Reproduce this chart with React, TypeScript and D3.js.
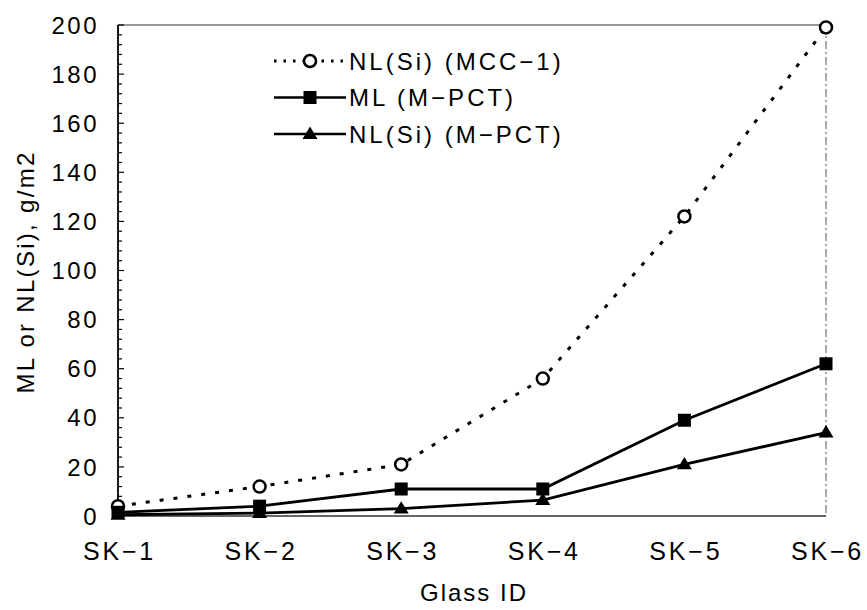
import React from "react";
import * as d3 from "d3";

const categories = ["SK\u22121", "SK\u22122", "SK\u22123", "SK\u22124", "SK\u22125", "SK\u22126"];
const nlMcc = [4, 12, 21, 56, 122, 199];
const mlPct = [1.5, 4, 11, 11, 39, 62];
const nlPct = [0.5, 1.2, 3, 6.5, 21, 34];
const yTicks = [0, 20, 40, 60, 80, 100, 120, 140, 160, 180, 200];
const seriesNames = ["NL(Si) (MCC\u22121)", "ML (M\u2212PCT)", "NL(Si) (M\u2212PCT)"];

const W = 867, H = 610;
const m = { left: 118, right: 41, top: 25, bottom: 94 };
const FONT = "'Liberation Sans', Arial, sans-serif";
const FS = 24;

export default function App() {
  const x = d3.scalePoint<string>().domain(categories).range([m.left, W - m.right]).padding(0);
  const y = d3.scaleLinear().domain([0, 200]).range([H - m.bottom, m.top]);
  const line = d3
    .line<number>()
    .x((_, i) => x(categories[i])!)
    .y((d) => y(d));
  const minor = d3.range(0, 201, 4);
  const series = [
    { name: seriesNames[0], data: nlMcc, marker: "circle", dash: "4,10" },
    { name: seriesNames[1], data: mlPct, marker: "square", dash: null },
    { name: seriesNames[2], data: nlPct, marker: "triangle", dash: null },
  ];
  const marker = (type: string, cx: number, cy: number, key: any) => {
    if (type === "circle")
      return <circle key={key} cx={cx} cy={cy} r={6} fill="#fff" stroke="#000" strokeWidth={2.5} />;
    if (type === "square")
      return <rect key={key} x={cx - 6.5} y={cy - 6.5} width={13} height={13} fill="#000" />;
    const s = 7.5;
    return (
      <path
        key={key}
        d={`M${cx},${cy - s}L${cx + s},${cy + s * 0.65}L${cx - s},${cy + s * 0.65}Z`}
        fill="#000"
      />
    );
  };
  const y0 = y(0), y1 = y(200);
  const xL = m.left, xR = W - m.right;
  return (
    <svg width={W} height={H} style={{ position: "absolute", left: 0, top: 0, background: "#fff" }} fontFamily={FONT}>
      {/* frame */}
      <line x1={xL} y1={y1} x2={xR} y2={y1} stroke="#333" strokeWidth={1.2} />
      <line x1={xR} y1={y1} x2={xR} y2={y0} stroke="#555" strokeWidth={1} strokeDasharray="8,3,2,3" />
      <line x1={xL} y1={y0} x2={xR} y2={y0} stroke="#333" strokeWidth={1.5} />
      <line x1={xL} y1={y0} x2={xL} y2={y1} stroke="#000" strokeWidth={1.8} />
      {/* y ticks */}
      {minor.map((v) => (
        <line key={"m" + v} x1={xL} x2={xL + (v % 20 === 0 ? 6 : 4)} y1={y(v)} y2={y(v)} stroke="#000" strokeWidth={1.2} />
      ))}
      {yTicks.map((v) => (
        <text key={"t" + v} x={99} y={y(v)} dy="0.36em" textAnchor="end" fontSize={FS} letterSpacing={2.5} fill="#000">
          {v}
        </text>
      ))}
      {categories.map((c) => (
        <text key={c} x={x(c)! + 1.5} y={560} textAnchor="middle" fontSize={25} letterSpacing={2.8} fill="#000">
          {c}
        </text>
      ))}
      <text x={474} y={601} textAnchor="middle" fontSize={FS} letterSpacing={2} fill="#000">
        Glass ID
      </text>
      <text
        transform={`translate(34, 272) rotate(-90)`}
        textAnchor="middle"
        fontSize={FS}
        letterSpacing={2.3}
        fill="#000"
      >
        ML or NL(Si), g/m2
      </text>
      {/* series */}
      {series.map((s, si) => (
        <g key={si}>
          <path
            d={line(s.data)!}
            fill="none"
            stroke="#000"
            strokeWidth={s.dash ? 3 : 2.8}
            strokeDasharray={s.dash || undefined}
            strokeLinecap="butt"
          />
          {s.data.map((v, i) => marker(s.marker, x(categories[i])!, y(v), i))}
        </g>
      ))}
      {/* legend */}
      {series.map((s, i) => {
        const ly = 61 + i * 36.5;
        return (
          <g key={"l" + i}>
            <line
              x1={274}
              x2={346}
              y1={ly}
              y2={ly}
              stroke="#000"
              strokeWidth={s.dash ? 2.8 : 2.4}
              strokeDasharray={s.dash ? "2.5,7" : undefined}
              strokeLinecap="butt"
            />
            {marker(s.marker, 310, ly, "lm")}
            <text x={349} y={ly} dy="0.36em" fontSize={FS} letterSpacing={3} fill="#000">
              {s.name}
            </text>
          </g>
        );
      })}
    </svg>
  );
}
